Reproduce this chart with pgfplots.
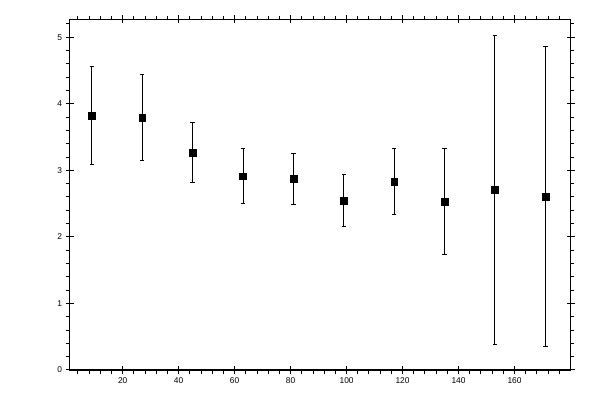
\documentclass[border=0pt]{standalone}
\usepackage{fontspec}
\setmainfont{Liberation Sans}
\usepackage{pgfplots}
\usepackage{pgfplotstable}
\pgfplotsset{compat=1.18}

\pgfplotstableread{
x    y      e
9    3.825  0.735
27   3.795  0.645
45   3.268  0.449
63   2.911  0.414
81   2.876  0.384
99   2.545  0.386
117  2.831  0.497
135  2.535  0.796
153  2.711  2.322
171  2.605  2.249
}\means

\pgfplotsset{
  frame/.style={
    at={(69.5bp,30bp)}, anchor=south west,
    scale only axis, width=501bp, height=350.7bp,
    xmin=1, xmax=180, ymin=0, ymax=5.27,
    axis line style={line width=1bp},
    every major tick/.style={black, line width=1bp},
    xtick pos=both, ytick pos=both,
  },
}

\begin{document}
\begin{tikzpicture}
\path[use as bounding box] (0,0) rectangle (600bp,400bp);
% small ticks, pointing outward on every side
\begin{axis}[frame,
  tick align=inside,
  major tick length=-3.5bp,
  xtick={4,8,...,176}, ytick={0.2,0.4,...,5.2},
  xticklabels={}, yticklabels={},
]
\end{axis}
% crossing main ticks, labels and data
\begin{axis}[frame,
  tick align=center,
  major tick length=8bp,
  xtick={20,40,...,160}, ytick={0,1,...,5},
  xticklabel pos=lower, yticklabel pos=left,
  ticklabel style={font=\fontsize{8.4bp}{10bp}\selectfont},
  /pgf/number format/assume math mode=true,
]
\addplot[only marks, mark=square*, mark size=3.4bp, black,
  error bars/.cd, y dir=both, y explicit,
  error bar style={line width=1bp},
  error mark options={rotate=90, mark size=2.2bp, line width=1bp}]
  table[x=x, y=y, y error=e] {\means};
\end{axis}
\end{tikzpicture}
\end{document}
